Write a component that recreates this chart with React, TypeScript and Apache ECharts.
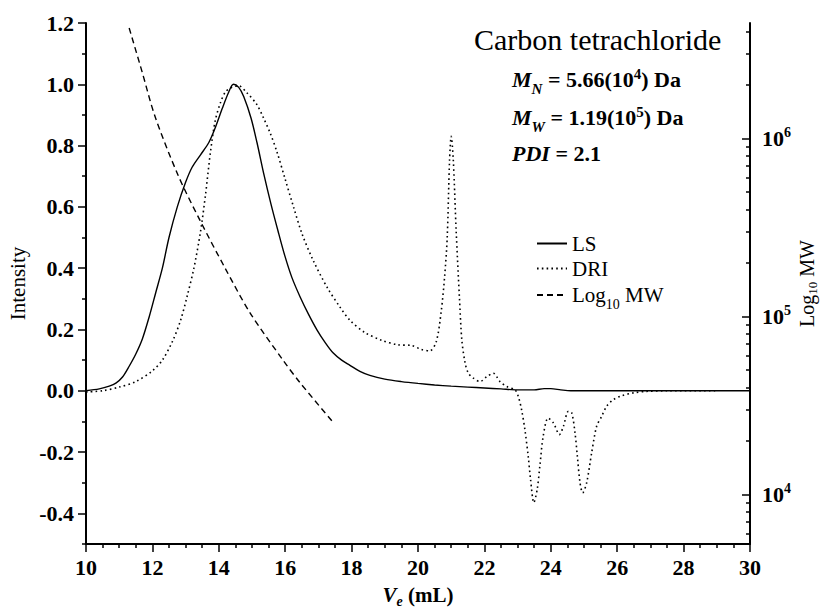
import React, { useEffect, useRef } from 'react';
import * as echarts from 'echarts';

// ---------- data ----------
const lsX = [10, 10.4, 10.7, 10.9, 11.1, 11.3, 11.5, 11.7, 11.9, 12.1, 12.3, 12.5, 12.75, 13.0, 13.2, 13.45, 13.7, 13.9, 14.1, 14.3, 14.44, 14.6, 14.75, 14.97, 15.15, 15.36, 15.57, 15.78, 15.99, 16.2, 16.45, 16.7, 16.96, 17.2, 17.44, 17.7, 17.95, 18.25, 18.55, 19.0, 19.5, 20.0, 20.5, 21.0, 21.5, 22.0, 22.5, 23.0, 23.5, 23.8, 24.0, 24.3, 24.6, 25.0, 26, 28, 30];
const lsY = [0.0, 0.006, 0.015, 0.025, 0.045, 0.08, 0.12, 0.17, 0.24, 0.32, 0.40, 0.50, 0.60, 0.68, 0.73, 0.77, 0.81, 0.86, 0.92, 0.975, 1.0, 0.99, 0.96, 0.89, 0.81, 0.705, 0.61, 0.523, 0.44, 0.37, 0.306, 0.25, 0.198, 0.158, 0.124, 0.1, 0.083, 0.063, 0.05, 0.038, 0.03, 0.024, 0.019, 0.015, 0.012, 0.009, 0.006, 0.003, 0.003, 0.007, 0.007, 0.003, 0.0, 0.0, 0.0, 0.0, 0.0];

const driX = [10, 10.5, 11.0, 11.5, 12.0, 12.3, 12.6, 12.85, 13.05, 13.25, 13.45, 13.6, 13.75, 13.89, 14.05, 14.2, 14.4, 14.6, 14.84, 15.14, 15.34, 15.55, 15.75, 16.0, 16.25, 16.5, 16.84, 17.26, 17.65, 17.95, 18.4, 18.9, 19.4, 19.8, 20.1, 20.35, 20.55, 20.7, 20.8, 20.88, 20.95, 21.0, 21.06, 21.15, 21.25, 21.32, 21.42, 21.52, 21.67, 21.87, 22.07, 22.27, 22.47, 22.67, 22.92, 23.02, 23.12, 23.22, 23.32, 23.39, 23.49, 23.59, 23.67, 23.77, 23.92, 24.08, 24.26, 24.38, 24.53, 24.63, 24.73, 24.8, 24.88, 24.96, 25.08, 25.23, 25.38, 25.53, 25.68, 25.88, 26.14, 26.49, 26.89, 27.5, 29];
const driY = [-0.004, 0.0, 0.012, 0.03, 0.065, 0.1, 0.16, 0.23, 0.31, 0.4, 0.52, 0.64, 0.78, 0.88, 0.94, 0.975, 0.99, 0.995, 0.973, 0.935, 0.892, 0.84, 0.78, 0.69, 0.6, 0.514, 0.426, 0.338, 0.273, 0.23, 0.19, 0.165, 0.15, 0.148, 0.135, 0.13, 0.16, 0.26, 0.37, 0.5, 0.75, 0.83, 0.76, 0.52, 0.3, 0.166, 0.09, 0.057, 0.041, 0.03, 0.046, 0.057, 0.03, 0.014, 0.003, -0.018, -0.062, -0.127, -0.214, -0.289, -0.365, -0.322, -0.246, -0.149, -0.089, -0.105, -0.143, -0.116, -0.067, -0.072, -0.138, -0.214, -0.3, -0.333, -0.3, -0.203, -0.116, -0.084, -0.051, -0.029, -0.016, -0.007, -0.002, 0, 0];

const mwX = [11.3, 11.69, 12.08, 12.77, 13.43, 14.19, 14.94, 15.93, 16.45, 17.44];
const mwY = [4.18e6, 2.37e6, 1.33e6, 6.24e5, 3.48e5, 1.87e5, 1.05e5, 5.7e4, 4.24e4, 2.55e4];

const intensityMajor = [-0.4, -0.2, 0, 0.2, 0.4, 0.6, 0.8, 1.0, 1.2];
const intensityMinor = [-0.5, -0.3, -0.1, 0.1, 0.3, 0.5, 0.7, 0.9, 1.1];
const mwMajor = [1e4, 1e5, 1e6];
const mwMinor = [6e3, 7e3, 8e3, 9e3, 2e4, 3e4, 4e4, 5e4, 6e4, 7e4, 8e4, 9e4, 2e5, 3e5, 4e5, 5e5, 6e5, 7e5, 8e5, 9e5, 2e6, 3e6, 4e6];
const mwMin = 5270;
const mwMax = 4.46e6;

const FONT = '"Liberation Serif", "Times New Roman", serif';

export default function App() {
  const ref = useRef<HTMLDivElement>(null);
  useEffect(() => {
    if (!ref.current) return;
    const chart = echarts.init(ref.current, null, { renderer: 'svg' });
    const lg = (v: number) => Math.log10(v);
    const tickLine = { color: '#000', width: 1.5 };
    const rb = { fontFamily: FONT, fontSize: 22, fontWeight: 'bold' as const, color: '#000', lineHeight: 26 };
    const rbi = { ...rb, fontStyle: 'italic' as const };
    const rsub = { fontFamily: FONT, fontSize: 15, fontWeight: 'bold' as const, fontStyle: 'italic' as const, color: '#000', verticalAlign: 'top' as const, padding: [15, 0, 0, 0], lineHeight: 16 };
    const rsup = { fontFamily: FONT, fontSize: 15, fontWeight: 'bold' as const, color: '#000', verticalAlign: 'top' as const, lineHeight: 16 };

    const option: any = {
      animation: false,
      backgroundColor: '#fff',
      grid: { left: 86, right: 75, top: 23, bottom: 71, containLabel: false, outerBoundsMode: 'none' },
      legend: {
        orient: 'vertical',
        left: 531,
        top: 228,
        itemWidth: 30,
        itemHeight: 14,
        itemGap: 4,
        itemStyle: { opacity: 0 },
        textStyle: {
          fontFamily: FONT, fontSize: 21, color: '#000',
          rich: {
            n: { fontFamily: FONT, fontSize: 21, color: '#000', lineHeight: 24 },
            s: { fontFamily: FONT, fontSize: 14, color: '#000', verticalAlign: 'top', padding: [14, 0, 0, 0], lineHeight: 15 },
          },
        },
        formatter: (name: string) => (name === 'Log10 MW' ? '{n|Log}{s|10}{n| MW}' : name),
        data: ['LS', 'DRI', 'Log10 MW'],
      },
      xAxis: {
        type: 'value', min: 10, max: 30, interval: 2,
        axisLine: { show: true, onZero: false, lineStyle: { color: '#000', width: 2 } },
        axisTick: { show: true, inside: false, length: 8, lineStyle: tickLine },
        minorTick: { show: true, splitNumber: 4, length: 4, lineStyle: tickLine },
        axisLabel: { fontFamily: FONT, fontSize: 22, fontWeight: 'bold', color: '#000', margin: 12 },
        splitLine: { show: false },
        name: '{i|V}{s|e}{n| (mL)}',
        nameLocation: 'middle',
        nameGap: 38,
        nameTextStyle: {
          rich: {
            i: { fontFamily: FONT, fontSize: 21, fontWeight: 'bold', fontStyle: 'italic', color: '#000', lineHeight: 24 },
            s: { fontFamily: FONT, fontSize: 14, fontWeight: 'bold', fontStyle: 'italic', color: '#000', verticalAlign: 'top', padding: [12, 0, 0, 0], lineHeight: 14 },
            n: { fontFamily: FONT, fontSize: 21, fontWeight: 'bold', color: '#000', lineHeight: 24 },
          },
        },
      },
      yAxis: [
        {
          type: 'value', min: -0.5, max: 1.2, position: 'left',
          axisLine: { show: true, onZero: false, lineStyle: { color: '#000', width: 2 } },
          axisTick: { show: true, inside: false, length: 8, lineStyle: tickLine, customValues: intensityMajor },
          axisLabel: { fontFamily: FONT, fontSize: 22, fontWeight: 'bold', color: '#000', margin: 12, customValues: intensityMajor, formatter: (v: number) => v.toFixed(1) },
          splitLine: { show: false },
          name: 'Intensity', nameLocation: 'middle', nameGap: 56, nameRotate: 90,
          nameTextStyle: { fontFamily: FONT, fontSize: 21, color: '#000' },
        },
        {
          type: 'value', min: -0.5, max: 1.2, position: 'left',
          axisLine: { show: false },
          axisTick: { show: true, inside: false, length: 4, lineStyle: tickLine, customValues: intensityMinor },
          axisLabel: { show: false },
          splitLine: { show: false },
        },
        {
          type: 'value', min: lg(mwMin), max: lg(mwMax), position: 'right',
          axisLine: { show: true, onZero: false, lineStyle: { color: '#000', width: 2 } },
          axisTick: { show: true, inside: true, length: 8, lineStyle: tickLine, customValues: mwMajor.map(lg) },
          axisLabel: {
            margin: 12, customValues: mwMajor.map(lg),
            formatter: (v: number) => `{b|10}{s|${Math.round(v)}}`,
            rich: {
              b: { fontFamily: FONT, fontSize: 22, fontWeight: 'bold', color: '#000', lineHeight: 26 },
              s: { fontFamily: FONT, fontSize: 14, fontWeight: 'bold', color: '#000', verticalAlign: 'top', lineHeight: 15 },
            },
          },
          splitLine: { show: false },
          name: '{n|Log}{s|10}{n| MW}', nameLocation: 'middle', nameGap: 46, nameRotate: 90,
          nameMoveOverlap: false,
          nameTextStyle: {
            rich: {
              n: { fontFamily: FONT, fontSize: 20, color: '#000', lineHeight: 22 },
              s: { fontFamily: FONT, fontSize: 13, color: '#000', verticalAlign: 'top', padding: [10, 0, 0, 0], lineHeight: 13 },
            },
          },
        },
        {
          type: 'value', min: lg(mwMin), max: lg(mwMax), position: 'right',
          axisLine: { show: false },
          axisTick: { show: true, inside: true, length: 4, lineStyle: tickLine, customValues: mwMinor.map(lg) },
          axisLabel: { show: false },
          splitLine: { show: false },
        },
      ],
      series: [
        {
          name: 'LS', type: 'line', yAxisIndex: 0, symbol: 'none', smooth: 0.3,
          lineStyle: { color: '#000', width: 1.4, type: 'solid' },
          itemStyle: { color: '#000' },
          data: lsX.map((x, i) => [x, lsY[i]]),
        },
        {
          name: 'DRI', type: 'line', yAxisIndex: 0, symbol: 'none', smooth: 0.3,
          lineStyle: { color: '#000', width: 1.6, type: [1.6, 3.2] },
          itemStyle: { color: '#000' },
          data: driX.map((x, i) => [x, driY[i]]),
        },
        {
          name: 'Log10 MW', type: 'line', yAxisIndex: 2, symbol: 'none', smooth: 0.3,
          lineStyle: { color: '#000', width: 1.4, type: [6, 4] },
          itemStyle: { color: '#000' },
          data: mwX.map((x, i) => [x, lg(mwY[i])]),
        },
      ],
      graphic: [
        { type: 'text', left: 474, top: 24, style: { text: 'Carbon tetrachloride', font: `30px ${FONT}`, fill: '#000' } },
        { type: 'text', left: 512, top: 66, style: { text: '{bi|M}{sub|N}{b| = 5.66(10}{sup|4}{b|) Da}', rich: { bi: rbi, b: rb, sub: rsub, sup: rsup } } },
        { type: 'text', left: 512, top: 104, style: { text: '{bi|M}{sub|W}{b| = 1.19(10}{sup|5}{b|) Da}', rich: { bi: rbi, b: rb, sub: rsub, sup: rsup } } },
        { type: 'text', left: 512, top: 142, style: { text: '{bi|PDI}{b| = 2.1}', rich: { bi: rbi, b: rb } } },
      ],
    };
    chart.setOption(option);
    return () => chart.dispose();
  }, []);
  return <div ref={ref} style={{ position: 'fixed', left: 0, top: 0, width: 825, height: 615, background: '#fff' }} />;
}
